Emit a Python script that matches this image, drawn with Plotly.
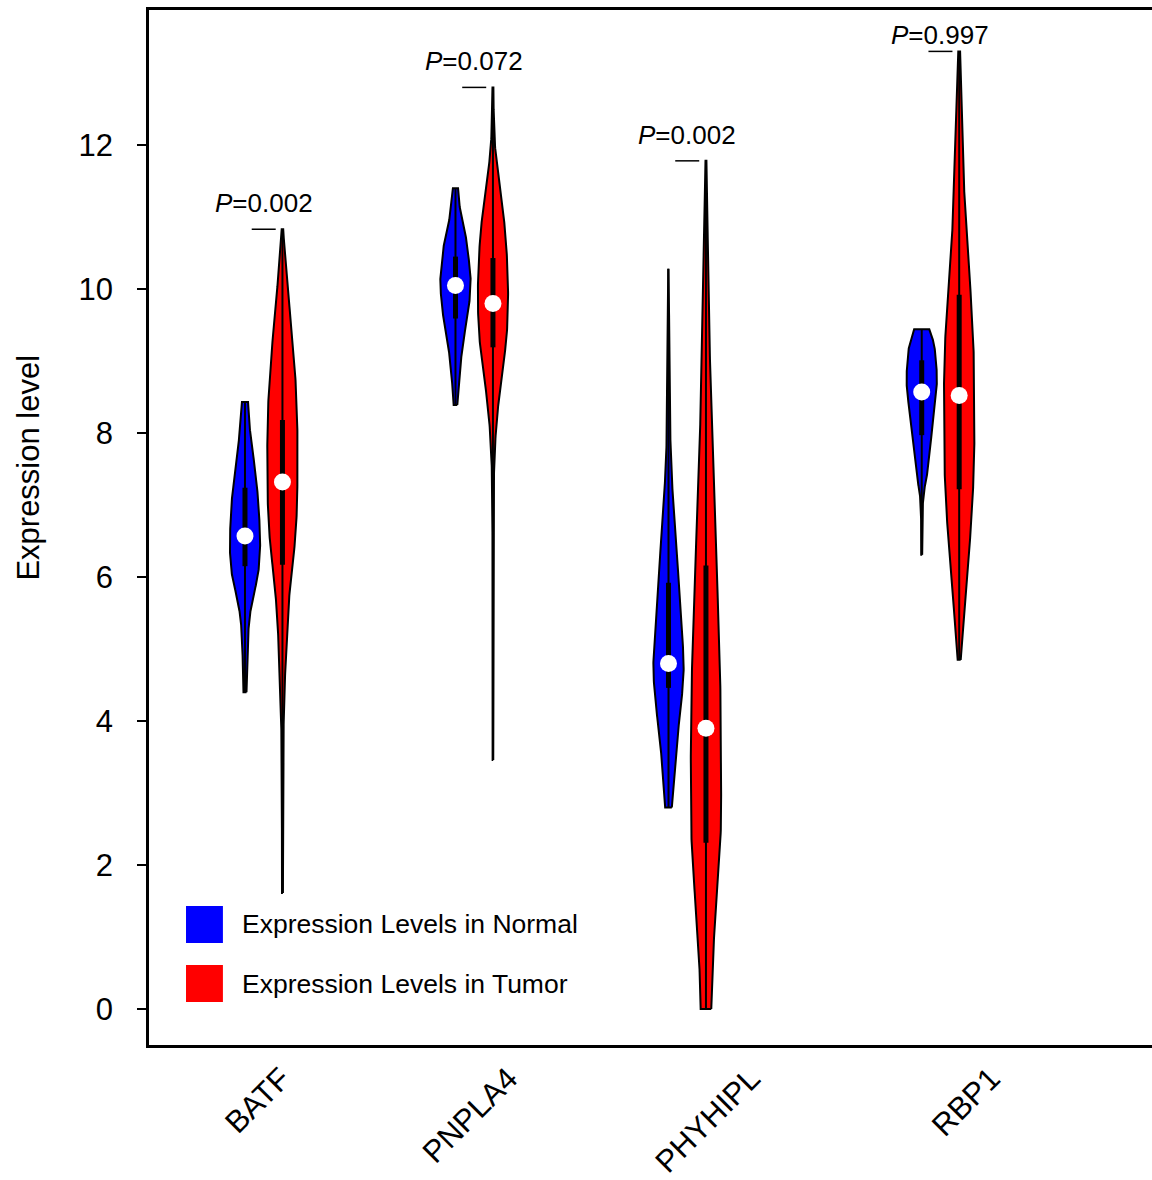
import numpy as np
import plotly.graph_objects as go

# ---------------- data ----------------
genes = ["BATF", "PNPLA4", "PHYHIPL", "RBP1"]
gene_pos = [1.0, 2.0, 3.012, 4.215]          # category centres on x axis
label_pos = [1.084, 2.163, 3.315, 4.455]     # rotated tick label anchors
p_values = ["0.002", "0.072", "0.002", "0.997"]

# box statistics
normal_min = [4.40, 8.39, 2.80, 6.31]
normal_q1 = [6.15, 9.59, 4.46, 7.97]
normal_median = [6.57, 10.05, 4.80, 8.57]
normal_q3 = [7.24, 10.45, 5.92, 9.01]
normal_max = [8.43, 11.40, 10.28, 9.44]

tumor_min = [1.61, 3.46, 0.00, 4.85]
tumor_q1 = [6.17, 9.19, 2.31, 7.22]
tumor_median = [7.32, 9.80, 3.90, 8.52]
tumor_q3 = [8.18, 10.43, 6.16, 9.92]
tumor_max = [10.83, 12.80, 11.78, 13.30]

# density outlines: expression values and relative half-widths
batf_normal_y = [4.40, 4.99, 5.40, 5.68, 6.10, 6.44, 6.79, 7.35, 8.04, 8.43]
batf_normal_w = [0.10, 0.17, 0.28, 0.50, 0.90, 1.00, 0.95, 0.75, 0.33, 0.20]
batf_tumor_y = [1.61, 2.90, 3.60, 4.29, 4.85, 5.40, 5.96, 6.51, 7.07, 7.76, 8.18, 8.67, 9.11, 9.85, 10.17, 10.50, 10.83]
batf_tumor_w = [0.03, 0.04, 0.06, 0.11, 0.22, 0.33, 0.55, 0.83, 0.97, 1.00, 0.97, 0.88, 0.72, 0.42, 0.27, 0.15, 0.05]

pnpla4_normal_y = [8.39, 8.64, 9.01, 9.38, 9.75, 10.12, 10.30, 10.68, 11.05, 11.40]
pnpla4_normal_w = [0.12, 0.20, 0.36, 0.60, 0.89, 1.00, 0.93, 0.72, 0.33, 0.17]
pnpla4_tumor_y = [3.46, 5.50, 7.00, 7.53, 8.04, 8.50, 8.97, 9.43, 9.89, 10.36, 10.82, 11.28, 11.65, 11.98, 12.44, 12.80]
pnpla4_tumor_w = [0.02, 0.02, 0.04, 0.08, 0.20, 0.41, 0.70, 0.93, 1.00, 0.94, 0.80, 0.52, 0.30, 0.14, 0.05, 0.03]

phyhipl_normal_y = [2.80, 3.22, 3.72, 4.22, 4.74, 5.24, 5.75, 6.25, 6.75, 7.26, 7.76, 8.70, 9.60, 10.28]
phyhipl_normal_w = [0.22, 0.37, 0.55, 0.83, 1.00, 0.90, 0.75, 0.57, 0.41, 0.25, 0.14, 0.08, 0.04, 0.02]
phyhipl_tumor_y = [0.00, 0.69, 1.20, 1.70, 2.20, 2.71, 3.72, 4.74, 5.75, 6.75, 7.76, 9.15, 10.54, 11.78]
phyhipl_tumor_w = [0.35, 0.45, 0.60, 0.77, 0.92, 1.00, 1.00, 0.92, 0.77, 0.60, 0.43, 0.25, 0.13, 0.03]

rbp1_normal_y = [6.31, 6.80, 7.17, 7.35, 7.81, 8.28, 8.74, 9.20, 9.44]
rbp1_normal_w = [0.03, 0.04, 0.13, 0.30, 0.56, 0.80, 1.00, 0.84, 0.50]
rbp1_tumor_y = [4.85, 5.03, 5.50, 5.96, 6.42, 6.89, 7.35, 7.81, 8.74, 9.20, 9.67, 10.13, 11.08, 12.00, 12.55, 13.30]
rbp1_tumor_w = [0.10, 0.17, 0.33, 0.50, 0.68, 0.83, 0.94, 1.00, 1.00, 0.94, 0.83, 0.70, 0.38, 0.25, 0.16, 0.06]

normal_profiles = [(batf_normal_y, batf_normal_w), (pnpla4_normal_y, pnpla4_normal_w),
                   (phyhipl_normal_y, phyhipl_normal_w), (rbp1_normal_y, rbp1_normal_w)]
tumor_profiles = [(batf_tumor_y, batf_tumor_w), (pnpla4_tumor_y, pnpla4_tumor_w),
                  (phyhipl_tumor_y, phyhipl_tumor_w), (rbp1_tumor_y, rbp1_tumor_w)]

# ---------------- style ----------------
FONT = "Liberation Sans, Arial, Helvetica, sans-serif"
HALF = 0.072      # max half width of violin (x units)
OFFSET = 0.089    # normal/tumor offset from category centre
BLUE = "#0000FF"
RED = "#FF0000"

fig = go.Figure()


def pchip(x, y, xn):
    """Monotone cubic (Fritsch-Carlson) curve through the read points."""
    x = np.asarray(x, float)
    y = np.asarray(y, float)
    h = np.diff(x)
    delta = np.diff(y) / h
    n = len(x)
    d = np.zeros(n)
    d[0] = delta[0]
    d[-1] = delta[-1]
    for k in range(1, n - 1):
        if delta[k - 1] * delta[k] <= 0:
            d[k] = 0.0
        else:
            w1 = 2 * h[k] + h[k - 1]
            w2 = h[k] + 2 * h[k - 1]
            d[k] = (w1 + w2) / (w1 / delta[k - 1] + w2 / delta[k])
    idx = np.clip(np.searchsorted(x, xn) - 1, 0, n - 2)
    t = (xn - x[idx]) / h[idx]
    h00 = 2 * t ** 3 - 3 * t ** 2 + 1
    h10 = t ** 3 - 2 * t ** 2 + t
    h01 = -2 * t ** 3 + 3 * t ** 2
    h11 = t ** 3 - t ** 2
    return h00 * y[idx] + h10 * h[idx] * d[idx] + h01 * y[idx + 1] + h11 * h[idx] * d[idx + 1]


def add_violin(center, ys, ws, color, vmin, q1, med, q3, vmax):
    yf = np.linspace(ys[0], ys[-1], 300)
    wf = np.clip(pchip(ys, ws, yf), 0.0, None) * HALF
    xs = np.concatenate([center + wf, (center - wf)[::-1], [center + wf[0]]])
    yy = np.concatenate([yf, yf[::-1], [yf[0]]])
    fig.add_trace(go.Scatter(x=xs, y=yy, mode="lines", fill="toself", fillcolor=color,
                             line=dict(color="black", width=2),
                             hoverinfo="skip", showlegend=False))
    fig.add_trace(go.Scatter(x=[center, center], y=[vmin, vmax], mode="lines",
                             line=dict(color="black", width=2), hoverinfo="skip", showlegend=False))
    fig.add_trace(go.Scatter(x=[center, center], y=[q1, q3], mode="lines",
                             line=dict(color="black", width=5), hoverinfo="skip", showlegend=False))
    fig.add_trace(go.Scatter(x=[center], y=[med], mode="markers",
                             marker=dict(color="white", size=17, line=dict(width=0)),
                             hoverinfo="skip", showlegend=False))


for i, g in enumerate(genes):
    ny, nw = normal_profiles[i]
    ty, tw = tumor_profiles[i]
    add_violin(gene_pos[i] - OFFSET, ny, nw, BLUE, normal_min[i], normal_q1[i],
               normal_median[i], normal_q3[i], normal_max[i])
    add_violin(gene_pos[i] + OFFSET, ty, tw, RED, tumor_min[i], tumor_q1[i],
               tumor_median[i], tumor_q3[i], tumor_max[i])
    top = max(normal_max[i], tumor_max[i])
    fig.add_trace(go.Scatter(x=[gene_pos[i] - 0.057, gene_pos[i] + 0.057], y=[top, top],
                             mode="lines", line=dict(color="black", width=1.5),
                             hoverinfo="skip", showlegend=False))
    fig.add_annotation(x=gene_pos[i], y=min(top + 0.36, 13.53), xref="x", yref="y",
                       text="<i>P</i>=" + p_values[i], showarrow=False,
                       font=dict(family=FONT, size=26, color="black"),
                       xanchor="center", yanchor="middle")

# legend (drawn manually with large squares)
legend_items = [("Expression Levels in Normal", BLUE, 0.1343, 0.0986),
                ("Expression Levels in Tumor", RED, 0.0773, 0.0415)]
for text, col, y1, y0 in legend_items:
    fig.add_shape(type="rect", xref="paper", yref="paper", x0=0.0369, x1=0.0737,
                  y0=y0, y1=y1, fillcolor=col, line=dict(width=0))
    fig.add_annotation(x=0.0906, y=(y0 + y1) / 2, xref="paper", yref="paper", text=text,
                       showarrow=False, xanchor="left", yanchor="middle",
                       font=dict(family=FONT, size=26.5, color="black"))

# y axis title
fig.add_annotation(x=-0.1205, y=0.558, xref="paper", yref="paper", text="Expression level",
                   textangle=-90, showarrow=False, xanchor="center", yanchor="middle",
                   font=dict(family=FONT, size=31, color="black"))

fig.update_layout(
    width=1152, height=1180,
    margin=dict(l=149, r=0, t=10, b=135),
    plot_bgcolor="white", paper_bgcolor="white",
    showlegend=False,
    xaxis=dict(range=[0.455, 5.220], showline=True, linecolor="black", linewidth=3,
               mirror=True, showgrid=False, zeroline=False, ticks="", automargin=False,
               tickmode="array", tickvals=label_pos, ticktext=genes, tickangle=-45,
               ticklabelstandoff=0,
               tickfont=dict(family=FONT, size=31, color="black")),
    yaxis=dict(range=[-0.5, 13.875], showline=True, linecolor="black", linewidth=2.5,
               mirror=False, showgrid=False, zeroline=False, ticks="outside", automargin=False,
               ticklen=9, tickwidth=2, tickcolor="black",
               tickmode="array", tickvals=[0, 2, 4, 6, 8, 10, 12],
               ticktext=["0", "2", "4", "6", "8", "10", "12"],
               ticklabelstandoff=18,
               tickfont=dict(family=FONT, size=31, color="black")),
)

fig.write_html("out.html", config={"displayModeBar": False},
               post_script="document.body.style.margin='0';document.body.style.overflow='hidden';")
